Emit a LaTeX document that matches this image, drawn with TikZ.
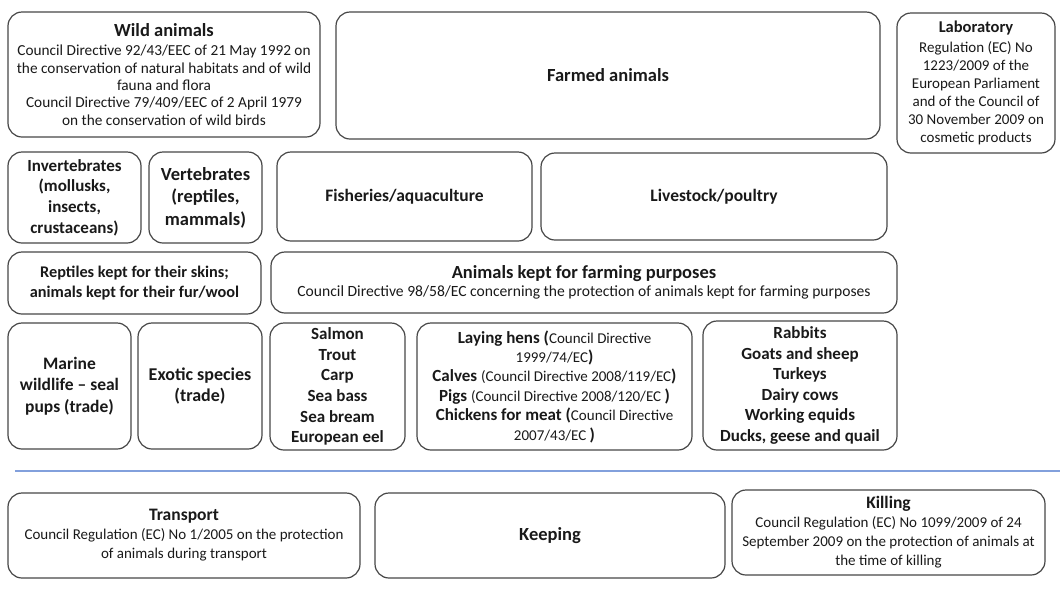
\documentclass[tikz,border=0pt]{standalone}
\usepackage{fontspec}
\setmainfont{Carlito}
\usepackage{tikz}
\usetikzlibrary{positioning}
\definecolor{boxgray}{RGB}{70, 70, 70}
\definecolor{textblack}{RGB}{25, 25, 25}
\definecolor{rulecolor}{RGB}{130, 160, 220}
\newcommand{\hdfont}{\fontsize{18.5}{21}\selectfont\bfseries}
\newcommand{\subhdfont}{\fontsize{17.5}{20}\selectfont\bfseries}
\newcommand{\txtfont}{\fontsize{15.3}{17.3}\selectfont}
\newcommand{\lblfont}{\fontsize{17}{20.6}\selectfont\bfseries}

\begin{document}
\begin{tikzpicture}[x=1pt, y=-1pt,
    box/.style={draw=boxgray, line width=1.2pt, rounded corners=14pt, align=center,
                text=textblack, inner sep=2pt},
    dims/.style 2 args={minimum width=#1pt, minimum height=#2pt},
    legal/.style={box, font=\txtfont},
    group/.style={box, font=\lblfont}
]
\useasboundingbox (0,0) rectangle (1060,598);

% Top row - who
\node[legal, dims={312}{125}] (wild) at (164,74.5) {{\hdfont Wild animals}\\[1.7pt]
    Council Directive 92/43/EEC of 21 May 1992 on\\
    the conservation of natural habitats and of wild\\
    fauna and flora\\
    Council Directive 79/409/EEC of 2 April 1979\\
    on the conservation of wild birds};
\node[box, font=\hdfont, dims={544}{127}] (farmed) at (608,75.5) {Farmed animals};
\node[box, font=\fontsize{15}{18}\selectfont, dims={158}{140}] (lab) at (976,83)
    {{\fontsize{16.5}{18}\selectfont\bfseries Laboratory}\\[2pt]
    Regulation (EC) No\\1223/2009 of the\\European Parliament\\
    and of the Council of\\30 November 2009 on\\cosmetic products};

% Second row
\node[group, dims={133}{91}] (invert) at (74.5,197.5) {Invertebrates\\(mollusks,\\insects,\\crustaceans)};
\node[box, font=\fontsize{18.5}{22.5}\selectfont\bfseries, dims={113}{91}] (vert) at (205.5,197.5)
    {Vertebrates\\(reptiles,\\mammals)};
\node[box, font=\subhdfont, dims={255}{89}] (fisheries) at (404.5,196.5) {Fisheries/aquaculture};
\node[box, font=\subhdfont, dims={346}{87}] (livestock) at (714,196.5) {Livestock/poultry};

% Third row
\node[box, font=\fontsize{16.3}{20.5}\selectfont\bfseries, dims={253}{62}] (skins) at (134.5,283)
    {Reptiles kept for their skins;\\animals kept for their fur/wool};
\node[box, font=\fontsize{15.6}{18}\selectfont, dims={626}{61}] (farming) at (584,282.5)
    {{\hdfont Animals kept for farming purposes}\\
    Council Directive 98/58/EC concerning the protection of animals kept for farming purposes};

% Fourth row - species
\node[box, font=\fontsize{17.5}{21.5}\selectfont\bfseries, dims={123}{126}] (marine) at (69.5,386)
    {Marine\\wildlife – seal\\pups (trade)};
\node[box, font=\fontsize{18}{21.5}\selectfont\bfseries, dims={124}{126}] (exotic) at (200,386)
    {Exotic species\\(trade)};
\node[group, dims={135}{127}] (fishes) at (337.5,386.5) {Salmon\\Trout\\Carp\\Sea bass\\Sea bream\\European eel};
\node[box, font=\fontsize{15}{19.4}\selectfont, dims={275}{127}] (hens) at (554.5,386.5) {%
    {\lblfont Laying hens (}Council Directive\\
    1999/74/EC{\lblfont )}\\
    {\lblfont Calves }(Council Directive 2008/119/EC{\lblfont )}\\
    {\lblfont Pigs }(Council Directive 2008/120/EC {\lblfont )}\\
    {\lblfont Chickens for meat (}Council Directive\\
    2007/43/EC {\lblfont )}};
\node[group, dims={194}{129}] (rabbits) at (800,385.5) {Rabbits\\Goats and sheep\\Turkeys\\Dairy cows\\Working equids\\Ducks, geese and quail};

% Separator
\draw[rulecolor, line width=2pt] (15,471) -- (1060,471);

% Bottom row - what
\node[box, font=\fontsize{15}{19}\selectfont, dims={352}{85}] (transport) at (184,535.5)
    {{\subhdfont Transport}\\
    Council Regulation (EC) No 1/2005 on the protection\\of animals during transport};
\node[box, font=\hdfont, dims={350}{85}] (keeping) at (550,535.5) {Keeping};
\node[box, font=\fontsize{15}{19}\selectfont, dims={313}{85}] (killing) at (888.5,532.5)
    {{\subhdfont Killing}\\
    Council Regulation (EC) No 1099/2009 of 24\\
    September 2009 on the protection of animals at\\the time of killing};

\end{tikzpicture}
\end{document}
